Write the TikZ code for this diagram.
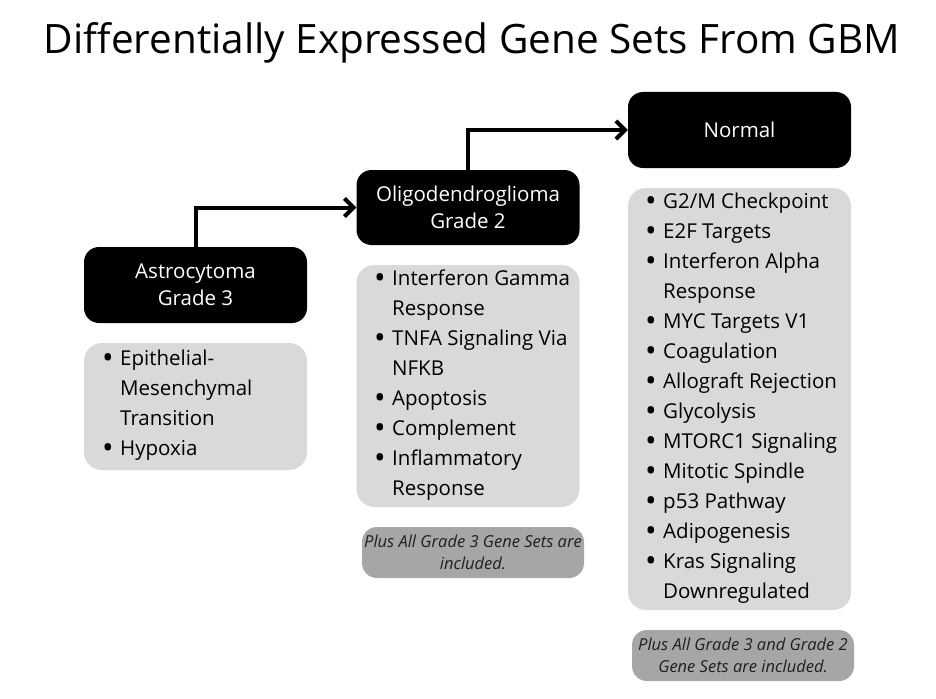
\documentclass[tikz,border=0pt]{standalone}
\usepackage{fontspec}
\setmainfont{Open Sans}
\usetikzlibrary{arrows.meta}
\definecolor{boxgray}{HTML}{D9D9D9}
\definecolor{notegray}{HTML}{A6A6A6}
\definecolor{notetext}{HTML}{1F1F1F}
\newcommand\bitem[1]{\makebox[18pt][l]{\raisebox{-3.4pt}{\scalebox{1.5}{\textbullet}}}#1}
\newcommand\bcont[1]{\hspace*{18pt}#1}
\begin{document}
\begin{tikzpicture}[x=1pt,y=-1pt,
 hdr/.style={fill=black, text=white, rounded corners=15pt, minimum width=223pt, inner sep=0pt, align=center, font=\fontsize{20.5}{27}\selectfont},
 listbox/.style={fill=boxgray, rounded corners=18pt, inner sep=0pt, minimum width=223pt},
 notebox/.style={fill=notegray, rounded corners=15pt, minimum width=222pt, minimum height=51pt, inner sep=0pt, align=center, text=notetext, font=\fontsize{16.5}{22.5}\selectfont\itshape},
 listtext/.style={anchor=base west, inner sep=0pt, font=\fontsize{20.5}{30}\selectfont},
 flow/.style={line width=4pt, -{Straight Barb[length=9pt,width=18pt]}}
]
\useasboundingbox[fill=white] (0,0) rectangle (936,698);

\node[font=\fontsize{40.5}{44}\selectfont] (title) at (472,43) {Differentially Expressed Gene Sets From GBM};

% column 1
\node[hdr, minimum height=76pt] (astro) at (195.5,285) {Astrocytoma\\Grade 3};
\node[listbox, minimum height=127pt] (list1) at (195.5,406.5) {};
\node[listtext] (items1) at (102,365) {\parbox[t]{200pt}{%
\bitem{Epithelial-}\\
\bcont{Mesenchymal}\\
\bcont{Transition}\\
\bitem{Hypoxia}}};

% column 2
\node[hdr, minimum height=75pt] (oligo) at (468,207.5) {Oligodendroglioma\\Grade 2};
\node[listbox, minimum height=242pt] (list2) at (468,386) {};
\node[listtext] (items2) at (374,285) {\parbox[t]{200pt}{%
\bitem{Interferon Gamma}\\
\bcont{Response}\\
\bitem{TNFA Signaling Via}\\
\bcont{NFKB}\\
\bitem{Apoptosis}\\
\bitem{Complement}\\
\bitem{Inflammatory}\\
\bcont{Response}}};
\node[notebox] (note2) at (473,552.5) {Plus All Grade 3 Gene Sets are\\included.};

% column 3
\node[hdr, minimum height=76pt] (normal) at (739.5,130) {Normal};
\node[listbox, minimum height=422pt] (list3) at (739.5,399) {};
\node[listtext] (items3) at (645,208) {\parbox[t]{200pt}{%
\bitem{G2/M Checkpoint}\\
\bitem{E2F Targets}\\
\bitem{Interferon Alpha}\\
\bcont{Response}\\
\bitem{MYC Targets V1}\\
\bitem{Coagulation}\\
\bitem{Allograft Rejection}\\
\bitem{Glycolysis}\\
\bitem{MTORC1 Signaling}\\
\bitem{Mitotic Spindle}\\
\bitem{p53 Pathway}\\
\bitem{Adipogenesis}\\
\bitem{Kras Signaling}\\
\bcont{Downregulated}}};
\node[notebox] (note3) at (743,655.5) {Plus All Grade 3 and Grade 2\\Gene Sets are included.};

% connectors
\draw[flow] (astro.north) |- (oligo.west);
\draw[flow] (oligo.north) |- (normal.west);
\end{tikzpicture}
\end{document}
